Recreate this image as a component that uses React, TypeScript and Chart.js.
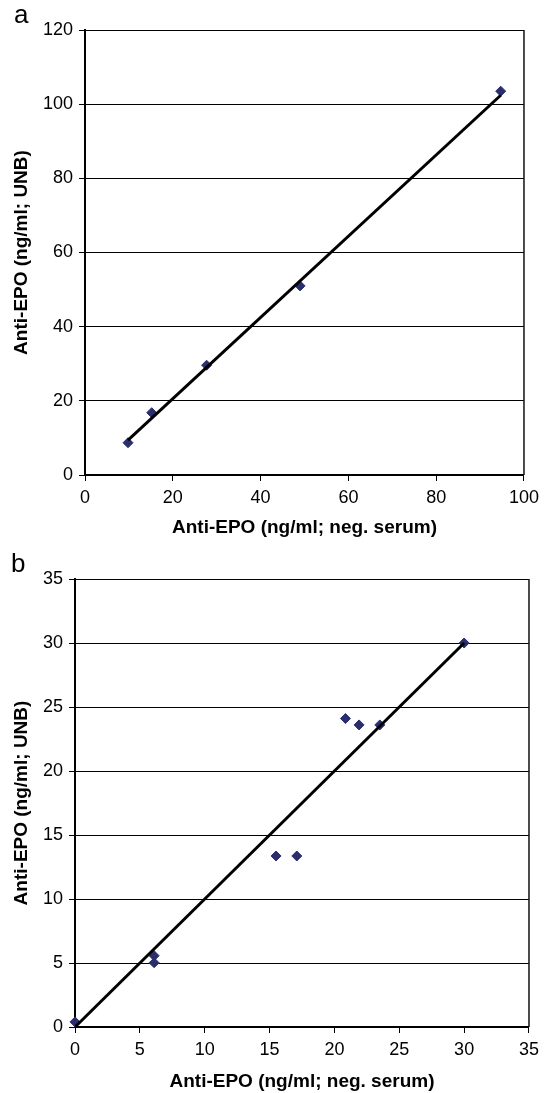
import React, { useEffect, useRef } from "react";
import { Chart, registerables } from "chart.js";

Chart.register(...registerables);

// ---------- data ----------
const X_TITLE = "Anti-EPO (ng/ml; neg. serum)";
const Y_TITLE = "Anti-EPO (ng/ml; UNB)";

const panelAX = [9.8, 15.2, 27.7, 49, 94.7];
const panelAY = [8.7, 16.8, 29.6, 51, 103.5];
const panelALineX = [9.8, 94.7];
const panelALineY = [9.4, 102.4];

const panelBX = [0, 6.1, 6.1, 15.5, 17.1, 20.85, 21.9, 23.5, 30];
const panelBY = [0.4, 5.57, 5.02, 13.36, 13.36, 24.1, 23.6, 23.6, 30];
const panelBLineX = [0, 30];
const panelBLineY = [0, 30];

const FONT = "'Liberation Sans', Arial, Helvetica, sans-serif";
const MARKER = "#2b2e6c";

type Panel = {
  letter: string;
  letterX: number;
  letterY: number;
  xs: number[];
  ys: number[];
  lx: number[];
  ly: number[];
  xMax: number;
  xStep: number;
  yMax: number;
  yStep: number;
  padTop: number;
  padRight: number;
  yWidth: number;
  xHeight: number;
  xTitlePadBottom: number;
  height: number;
};

const frame = {
  id: "frame",
  afterDraw(chart: any, _args: any, opts: any) {
    const { ctx, chartArea } = chart;
    ctx.save();
    ctx.strokeStyle = "#111";
    ctx.lineWidth = 1.5;
    ctx.beginPath();
    ctx.moveTo(chartArea.right, chartArea.top);
    ctx.lineTo(chartArea.right, chartArea.bottom);
    ctx.stroke();
    ctx.fillStyle = "#000";
    ctx.font = `26px ${FONT}`;
    ctx.textBaseline = "alphabetic";
    ctx.textAlign = "left";
    ctx.fillText(opts.letter, opts.x, opts.y);
    ctx.restore();
  },
};

function build(canvas: HTMLCanvasElement, p: Panel) {
  const pts = p.xs.map((x, i) => ({ x, y: p.ys[i] }));
  const line = p.lx.map((x, i) => ({ x, y: p.ly[i] }));
  return new Chart(canvas, {
    type: "scatter",
    data: {
      datasets: [
        {
          data: pts,
          pointStyle: "rectRot",
          pointRadius: 5,
          pointBackgroundColor: MARKER,
          pointBorderColor: MARKER,
          pointBorderWidth: 1,
          showLine: false,
          clip: false as any,
          order: 2,
        },
        {
          data: line,
          showLine: true,
          borderColor: "#000",
          borderWidth: 3,
          pointRadius: 0,
          order: 1,
        },
      ],
    },
    options: {
      responsive: false,
      animation: false,
      devicePixelRatio: 1,
      layout: { padding: { top: p.padTop, right: p.padRight, left: 0, bottom: 0 } },
      plugins: {
        legend: { display: false },
        tooltip: { enabled: false },
        frame: { letter: p.letter, x: p.letterX, y: p.letterY },
      } as any,
      scales: {
        x: {
          type: "linear",
          min: 0,
          max: p.xMax,
          ticks: {
            stepSize: p.xStep,
            color: "#000",
            font: { family: FONT, size: 18 },
            padding: 6,
            maxRotation: 0,
          },
          grid: {
            display: true,
            drawOnChartArea: false,
            drawTicks: true,
            tickLength: 6,
            tickColor: "#000",
          },
          border: { display: true, color: "#000", width: 2 },
          title: {
            display: true,
            text: X_TITLE,
            color: "#000",
            font: { family: FONT, size: 19, weight: "bold" },
            padding: { top: 0, bottom: p.xTitlePadBottom },
          },
          afterFit(scale: any) {
            scale.height = p.xHeight;
          },
        },
        y: {
          type: "linear",
          min: 0,
          max: p.yMax,
          ticks: {
            stepSize: p.yStep,
            color: "#000",
            font: { family: FONT, size: 18 },
            padding: 6,
          },
          grid: {
            display: true,
            color: "#000",
            lineWidth: 1,
            drawTicks: true,
            tickLength: 6,
            tickColor: "#000",
          },
          border: { display: true, color: "#000", width: 2 },
          title: {
            display: true,
            text: Y_TITLE,
            color: "#000",
            font: { family: FONT, size: 19, weight: "bold" },
            padding: { top: 10, bottom: 0 },
          },
          afterFit(scale: any) {
            scale.width = p.yWidth;
          },
        },
      },
    },
    plugins: [frame],
  });
}

const PANEL_A: Panel = {
  letter: "a",
  letterX: 14,
  letterY: 23,
  xs: panelAX,
  ys: panelAY,
  lx: panelALineX,
  ly: panelALineY,
  xMax: 100,
  xStep: 20,
  yMax: 120,
  yStep: 20,
  padTop: 30,
  padRight: 19,
  yWidth: 85,
  xHeight: 71,
  xTitlePadBottom: 7,
  height: 546,
};

const PANEL_B: Panel = {
  letter: "b",
  letterX: 11,
  letterY: 26,
  xs: panelBX,
  ys: panelBY,
  lx: panelBLineX,
  ly: panelBLineY,
  xMax: 35,
  xStep: 5,
  yMax: 35,
  yStep: 5,
  padTop: 33,
  padRight: 16,
  yWidth: 75,
  xHeight: 66,
  xTitlePadBottom: 0,
  height: 547,
};

function ChartPanel({ panel, top }: { panel: Panel; top: number }) {
  const ref = useRef<HTMLCanvasElement | null>(null);
  useEffect(() => {
    if (!ref.current) return;
    const c = build(ref.current, panel);
    return () => c.destroy();
  }, [panel]);
  return (
    <canvas
      ref={ref}
      width={545}
      height={panel.height}
      style={{ position: "absolute", left: 0, top, width: 545, height: panel.height, display: "block" }}
    />
  );
}

export default function App() {
  return (
    <div style={{ position: "absolute", left: 0, top: 0, width: 545, height: 1093, background: "#fff" }}>
      <ChartPanel panel={PANEL_A} top={0} />
      <ChartPanel panel={PANEL_B} top={546} />
    </div>
  );
}
